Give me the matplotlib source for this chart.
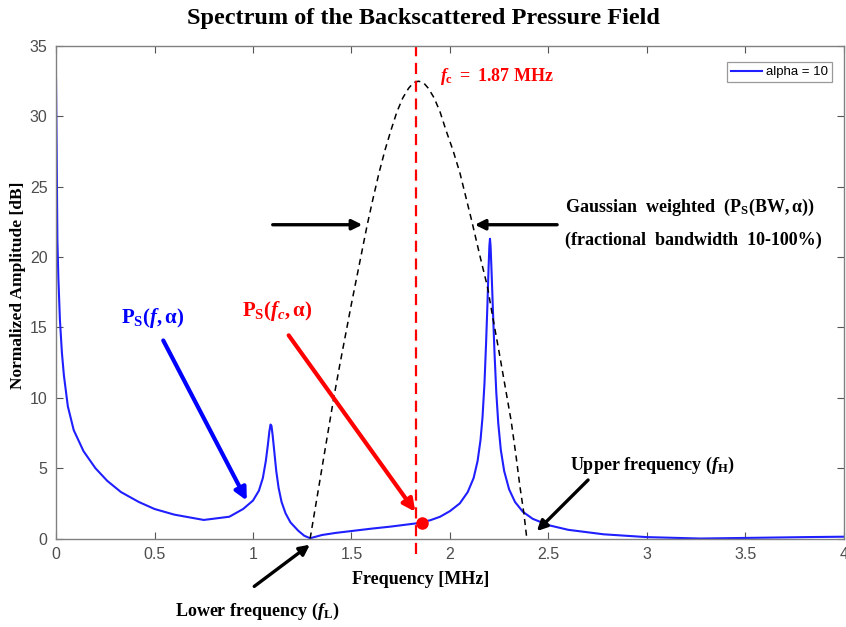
import matplotlib
matplotlib.use('Agg')
import matplotlib.pyplot as plt

plt.rcParams['mathtext.fontset'] = 'custom'
plt.rcParams['mathtext.rm'] = 'Liberation Serif:bold'
plt.rcParams['mathtext.it'] = 'Liberation Serif:italic:bold'
plt.rcParams['mathtext.bf'] = 'Liberation Serif:bold'

# backscattered spectrum, alpha = 10
freq = [0, 0.003, 0.007, 0.012, 0.02, 0.03, 0.04, 0.06, 0.09, 0.14, 0.2, 0.26,
        0.33, 0.42, 0.5, 0.6, 0.75, 0.88, 0.95, 1.0, 1.03, 1.05, 1.065, 1.075,
        1.083, 1.089, 1.094, 1.1, 1.108, 1.118, 1.13, 1.145, 1.165, 1.19, 1.23,
        1.26, 1.29, 1.35, 1.42, 1.51, 1.6, 1.7, 1.83, 1.9, 1.95, 2.0, 2.05,
        2.09, 2.12, 2.14, 2.155, 2.165, 2.175, 2.183, 2.19, 2.196, 2.2, 2.203,
        2.206, 2.211, 2.218, 2.226, 2.235, 2.245, 2.258, 2.275, 2.3, 2.33, 2.37,
        2.42, 2.5, 2.6, 2.78, 3.0, 3.27, 3.54, 3.8, 4.0]
amp = [32.7, 28.0, 21.2, 18.5, 15.5, 13.2, 11.6, 9.4, 7.7, 6.2, 5.0, 4.1,
       3.3, 2.6, 2.1, 1.7, 1.32, 1.55, 2.1, 2.7, 3.4, 4.3, 5.5, 6.6,
       7.6, 8.1, 8.0, 7.3, 6.2, 4.8, 3.6, 2.6, 1.8, 1.15, 0.55,
       0.2, 0.02, 0.25, 0.4, 0.55, 0.7, 0.85, 1.08, 1.3, 1.55, 1.95, 2.5,
       3.3, 4.3, 5.5, 7.0, 8.6, 11.0, 13.8, 16.6, 19.3, 20.8, 21.3,
       20.8, 19.0, 16.2, 13.2, 10.4, 8.2, 6.3, 4.8, 3.5, 2.6, 1.9,
       1.4, 0.95, 0.62, 0.3, 0.1, 0.0, 0.05, 0.1, 0.13]

# gaussian weighting window
gauss_f = [1.29, 1.32, 1.35, 1.38, 1.41, 1.44, 1.47, 1.50, 1.53, 1.58, 1.61,
           1.64, 1.67, 1.70, 1.73, 1.76, 1.79, 1.815, 1.84, 1.865, 1.89, 1.92,
           1.95, 1.98, 2.015, 2.05, 2.08, 2.11, 2.15, 2.19, 2.22, 2.25, 2.28,
           2.31, 2.335, 2.355, 2.375, 2.39]
gauss_v = [0, 2.5, 5.0, 7.5, 10.0, 12.3, 14.5, 16.7, 18.8, 22.3, 24.2,
           26.0, 27.6, 29.0, 30.3, 31.3, 32.0, 32.4, 32.5, 32.4, 32.0, 31.3,
           30.3, 29.0, 27.6, 26.0, 24.3, 22.6, 20.2, 17.9, 15.5, 13.2, 10.8,
           8.4, 5.9, 3.7, 1.8, 0]

fc_line = 1.83
fc_point = (1.86, 1.1)

xticks = [0, 0.5, 1, 1.5, 2, 2.5, 3, 3.5, 4]
xticklabels = ['0', '0.5', '1', '1.5', '2', '2.5', '3', '3.5', '4']
yticks = [0, 5, 10, 15, 20, 25, 30, 35]

fig = plt.figure(figsize=(8.46, 6.27), dpi=100)
ax = fig.add_axes([0.0662, 0.1411, 0.9314, 0.7855])

ax.plot(freq, amp, color='#1f1fff', lw=1.5, label='alpha = 10')
ax.plot(gauss_f, gauss_v, color='black', lw=1.1, ls=(0, (4, 3)))
ax.plot([fc_line, fc_line], [-1.1, 35], color='red', lw=1.6, ls=(0, (5, 3)), clip_on=False)
ax.plot(fc_point[0], fc_point[1], 'o', color='red', ms=8, clip_on=False)

ax.set_xlim(0, 4)
ax.set_ylim(0, 35)
ax.set_xticks(xticks)
ax.set_xticklabels(xticklabels)
ax.set_yticks(yticks)
ax.tick_params(direction='in', length=5, top=True, right=True, colors='#555555',
               labelcolor='#4d4d4d', labelsize=11.5, pad=6)
for lab in ax.get_xticklabels() + ax.get_yticklabels():
    lab.set_fontfamily('Liberation Sans')
for s in ax.spines.values():
    s.set_color('#808080')
    s.set_linewidth(1.0)

leg = ax.legend(loc='upper right', bbox_to_anchor=(0.985, 0.967), borderaxespad=0,
                fancybox=False, prop={'family': 'Liberation Sans', 'size': 9.5},
                handlelength=2.4, borderpad=0.3, handletextpad=0.3)
leg.get_frame().set_edgecolor('#808080')
leg.get_frame().set_linewidth(0.9)

serif = 'Liberation Serif'
fig.text(0.501, 0.971, 'Spectrum of the Backscattered Pressure Field', ha='center',
         va='center', fontsize=17.5, fontweight='bold', family=serif)
fig.text(0.021, 0.545, 'Normalized Amplitude [dB]', rotation=90, ha='center',
         va='center', fontsize=12.5, fontweight='bold', family=serif)
fig.text(0.497, 0.075, 'Frequency [MHz]', ha='center', va='center',
         fontsize=13, fontweight='bold', family=serif)

# annotations
ax.text(0.49, 15.7, r'$\mathrm{P}_\mathrm{S}(\mathit{f},\mathrm{α})$', color='blue',
        fontsize=15, ha='center', va='center')
ax.annotate('', xy=(0.975, 2.52), xytext=(0.538, 14.25),
            arrowprops=dict(arrowstyle='-|>', color='blue', lw=3, mutation_scale=18))
ax.text(1.122, 16.2, r'$\mathrm{P}_\mathrm{S}(\mathit{f}_\mathit{c},\mathrm{α})$', color='red',
        fontsize=15, ha='center', va='center')
ax.annotate('', xy=(1.832, 1.74), xytext=(1.173, 14.6),
            arrowprops=dict(arrowstyle='-|>', color='red', lw=3, mutation_scale=18))
ax.text(1.949, 32.8, r'$\mathit{f}_\mathrm{c}\mathrm{\ =\ 1.87\ MHz}$', color='red',
        fontsize=13, ha='left', va='center')

ax.text(2.584, 23.5, r'$\mathrm{Gaussian\ \ weighted\ \ (P_S(BW,α))}$', fontsize=13,
        ha='left', va='center')
ax.text(2.584, 21.2, '(fractional  bandwidth  10-100%)', fontsize=13, fontweight='bold',
        family=serif, ha='left', va='center')
ax.annotate('', xy=(1.569, 22.3), xytext=(1.086, 22.3),
            arrowprops=dict(arrowstyle='-|>', color='black', lw=2.4, mutation_scale=15))
ax.annotate('', xy=(2.112, 22.3), xytext=(2.558, 22.3),
            arrowprops=dict(arrowstyle='-|>', color='black', lw=2.4, mutation_scale=15))

ax.text(2.609, 5.2, r'$\mathrm{Upper\ frequency\ (}\mathit{f}_\mathrm{H}\mathrm{)}$',
        fontsize=13, ha='left', va='center')
ax.annotate('', xy=(2.431, 0.39), xytext=(2.711, 4.3),
            arrowprops=dict(arrowstyle='-|>', color='black', lw=2.4, mutation_scale=15))
ax.text(0.604, -5.2, r'$\mathrm{Lower\ frequency\ (}\mathit{f}_\mathrm{L}\mathrm{)}$',
        fontsize=13, ha='left', va='center', clip_on=False)
ax.annotate('', xy=(1.30, -0.32), xytext=(0.995, -3.52), annotation_clip=False,
            arrowprops=dict(arrowstyle='-|>', color='black', lw=2.4, mutation_scale=15))

fig.savefig('out.png', dpi=100)
